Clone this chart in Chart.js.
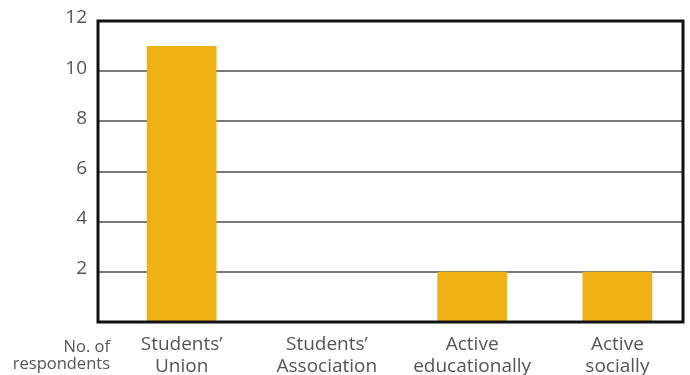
<!DOCTYPE html>
<html>
<head>
<meta charset="utf-8">
<script src="https://cdn.jsdelivr.net/npm/chart.js@4/dist/chart.umd.min.js"></script>
<style>
  html, body { margin: 0; padding: 0; background: #fff; }
  #wrap { width: 690px; height: 375px; }
</style>
</head>
<body>
<div id="wrap"><canvas id="c" width="690" height="375"></canvas></div>
<script>
// Survey: where respondents are involved
const categories = [
  ['Students\u2019', 'Union'],
  ['Students\u2019', 'Association'],
  ['Active', 'educationally'],
  ['Active', 'socially']
];
const respondents = [11, 0, 2, 2];
const yTicks = [2, 4, 6, 8, 10, 12];
const axisCaption = ['No. of', 'respondents'];

const TEXT = '#50565c';
const FONT = '"Open Sans", "Noto Sans", sans-serif';

// Frame and horizontal rules, drawn from the y scale
const framePlugin = {
  id: 'frame',
  beforeDatasetsDraw(chart) {
    const { ctx, chartArea: a, scales: { y } } = chart;
    const left = a.left - 11, right = a.right - 7;
    ctx.save();
    ctx.strokeStyle = '#7a7a7a';
    ctx.lineWidth = 2;
    yTicks.forEach(v => {
      if (v >= 12) return;
      const py = Math.round(y.getPixelForValue(v));
      ctx.beginPath();
      ctx.moveTo(left, py);
      ctx.lineTo(right, py);
      ctx.stroke();
    });
    ctx.restore();
  },
  afterDatasetsDraw(chart) {
    const { ctx, chartArea: a, scales: { y } } = chart;
    const left = a.left - 11, right = a.right - 7;
    const top = y.getPixelForValue(12), bottom = y.getPixelForValue(0);
    ctx.save();
    ctx.strokeStyle = '#111';
    ctx.lineWidth = 3;
    ctx.strokeRect(left, top, right - left, bottom - top);
    // caption under the axis
    ctx.fillStyle = TEXT;
    ctx.font = '16.5px ' + FONT;
    ctx.textAlign = 'right';
    ctx.textBaseline = 'middle';
    ctx.fillText(axisCaption[0], left + 12, bottom + 25);
    ctx.fillText(axisCaption[1], left + 12, bottom + 42);
    ctx.restore();
  }
};

new Chart(document.getElementById('c'), {
  type: 'bar',
  data: {
    labels: categories,
    datasets: [{
      data: respondents,
      backgroundColor: '#EFB114',
      borderWidth: 0,
      categoryPercentage: 1,
      barPercentage: 0.48
    }]
  },
  options: {
    responsive: false,
    animation: false,
    layout: { padding: { top: 21, right: 0, left: 0, bottom: 0 } },
    plugins: { legend: { display: false }, tooltip: { enabled: false } },
    scales: {
      x: {
        grid: { display: false, drawTicks: false },
        border: { display: false },
        afterFit(s) { s.height = 53; s.paddingLeft = 0; s.paddingRight = 0; },
        ticks: {
          color: TEXT,
          padding: 12,
          maxRotation: 0,
          autoSkip: false,
          font: { family: FONT, size: 19, lineHeight: 1.15 }
        }
      },
      y: {
        min: 0,
        max: 12,
        grid: { display: false, drawTicks: false },
        border: { display: false },
        afterFit(s) { s.width = 109; s.paddingTop = 0; s.paddingBottom = 0; },
        afterBuildTicks(s) { s.ticks = [0].concat(yTicks).map(v => ({ value: v })); },
        ticks: {
          color: TEXT,
          padding: 22,
          labelOffset: -3,
          font: { family: FONT, size: 19 },
          callback: v => (v === 0 ? '' : String(v))
        }
      }
    }
  },
  plugins: [framePlugin]
});
</script>
</body>
</html>
